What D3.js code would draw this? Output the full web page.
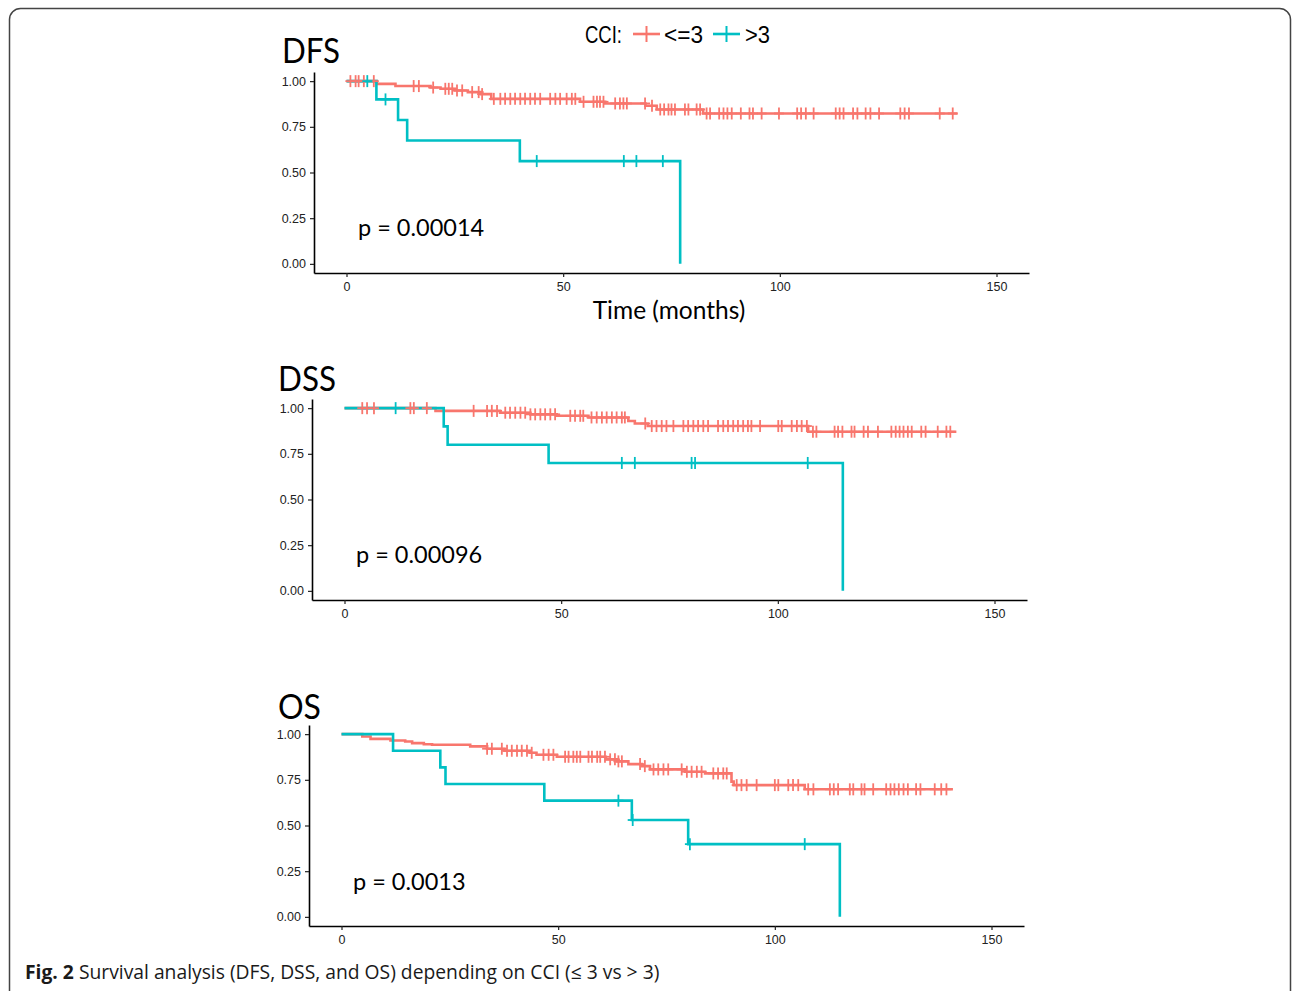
<!DOCTYPE html>
<html>
<head>
<meta charset="utf-8">
<script src="https://cdn.jsdelivr.net/npm/d3@7"></script>
<style>
  body { margin: 0; background: #fff; }
  svg { display: block; }
</style>
</head>
<body>
<div id="chart"></div>
<script>
// ---- data ----
const groups = ['<=3', '>3'];
const groupColors = ['#F8766D', '#00BFC4'];
const xTicks = [0, 50, 100, 150];
const yTicks = [0, 0.25, 0.5, 0.75, 1];
const panelNames = ['DFS', 'DSS', 'OS'];
const pValues = ['p = 0.00014', 'p = 0.00096', 'p = 0.0013'];

// [time, survival] at each step, plus the end of follow-up
const dfsLowSteps = [[0, 1], [7, 0.985], [11.3, 0.973], [19.4, 0.965], [21.7, 0.958], [25, 0.949], [28, 0.94], [31, 0.929],
  [33.4, 0.903], [53.9, 0.887], [59.7, 0.878], [69, 0.865], [71.6, 0.845], [82.3, 0.823], [141, 0.823]];
const dfsLowCensor = [0.9, 2.1, 2.8, 4, 6.3, 15.5, 16.7, 20, 22.8, 23.6, 24.4, 25.5, 26.7, 29, 30.5, 31.3, 34, 35.5, 36.6,
  37.8, 38.9, 40.1, 41.2, 42.4, 43.5, 44.7, 47, 48.2, 49.3, 50.8, 52, 52.8, 54.7, 57, 57.8, 58.5, 59.3, 62, 63.1, 63.9,
  64.7, 68.9, 70.5, 72.4, 73.3, 74.3, 75, 75.8, 78.1, 78.9, 80.8, 81.6, 83.1, 83.9, 86, 87, 87.9, 88.9, 91, 93, 93.8,
  95.8, 99.8, 104, 104.9, 106, 107.8, 112.9, 113.8, 114.7, 116.9, 117.9, 119.8, 120.9, 122.9, 127.8, 128.8, 129.8,
  136.9, 139.9];
const dfsHighSteps = [[0, 1], [6.9, 0.9], [11.9, 0.7875], [14, 0.675], [40, 0.5625], [77, 0]];
const dfsHighCensor = [4.8, 9, 43.9, 64, 66.9, 73];

const dssLowSteps = [[0, 1], [21, 0.985], [35.9, 0.975], [42.9, 0.966], [49, 0.958], [56.3, 0.949], [65.5, 0.93],
  [67, 0.916], [70, 0.902], [107, 0.871], [141.2, 0.871]];
const dssLowCensor = [4.1, 5.2, 6.8, 15.2, 16, 19, 29.8, 32.9, 34, 35.2, 37.1, 38.2, 39.4, 40.6, 41.7, 42.9, 44, 45.2,
  46.3, 47.5, 48.6, 52.1, 53.2, 54.4, 55.1, 57, 58.2, 59.4, 60.5, 61.7, 62.8, 64, 64.7, 69.4, 70.9, 72, 73.2, 74.3,
  75.9, 78.2, 79.3, 80.5, 81.6, 82.8, 83.9, 86.2, 87.4, 88.5, 89.7, 90.8, 92, 93.1, 93.9, 95.9, 100.1, 100.9, 103.2,
  104.4, 105.5, 106.7, 108.1, 108.9, 113.1, 113.9, 114.9, 117, 117.7, 119.8, 120.8, 123.1, 126.2, 127.2, 128.1, 129,
  130, 130.9, 133.1, 134.1, 136.9, 138.9, 139.8];
const dssHighSteps = [[0, 1], [22.9, 0.9], [23.8, 0.8], [47.1, 0.7], [115, 0]];
const dssHighCensor = [11.8, 64, 67, 80.1, 80.9, 106.9];

const osLowSteps = [[0, 1], [4.8, 0.987], [6.7, 0.974], [11.3, 0.965], [14.7, 0.96], [16.3, 0.951], [19, 0.945],
  [20.9, 0.942], [29.7, 0.933], [33.6, 0.92], [37.6, 0.909], [43.5, 0.898], [45, 0.887], [49.7, 0.876], [61, 0.862],
  [63.5, 0.851], [66.2, 0.836], [69.3, 0.825], [71.2, 0.807], [79.3, 0.794], [83.9, 0.785], [90, 0.74], [90.5, 0.721],
  [106.9, 0.698], [141.1, 0.698]];
const osLowCensor = [33.6, 34.7, 37, 38.2, 39.3, 40.5, 41.6, 42.8, 43.9, 46.6, 47.8, 48.9, 51.6, 52.4, 53.5, 54.3,
  55.1, 57, 57.8, 59, 59.7, 60.8, 62, 63.1, 63.9, 64.7, 68.9, 70, 72, 73.1, 74.3, 75.4, 78.5, 79.7, 80.8, 82, 83.1,
  85.8, 86.9, 88.1, 88.9, 91.2, 92.3, 93.5, 95.8, 100, 100.8, 103.1, 104.2, 105.4, 107.7, 108.9, 112.7, 113.6, 114.6,
  117.3, 118.1, 120, 120.7, 122.7, 125.7, 126.7, 127.6, 128.6, 129.7, 130.7, 132.6, 133.6, 136.9, 138.4, 139.6];
const osHighSteps = [[0, 1], [11.9, 0.909], [22.8, 0.818], [24, 0.727], [46.8, 0.636], [67, 0.53], [80, 0.398], [115, 0]];
const osHighCensor = [63.9, 67.2, 80.4, 106.9];

const panelSteps = [[dfsLowSteps, dfsHighSteps], [dssLowSteps, dssHighSteps], [osLowSteps, osHighSteps]];
const panelCensor = [[dfsLowCensor, dfsHighCensor], [dssLowCensor, dssHighCensor], [osLowCensor, osHighCensor]];

// ---- layout ----
const W = 1292, H = 991;
const panels = [
  { left: 314, top: 72, titleX: 282, titleY: 63, titleW: 58, pY: 236, xlab: true },
  { left: 312, top: 399, titleX: 278, titleY: 391, titleW: 58, pY: 563, xlab: false },
  { left: 309, top: 725, titleX: 278, titleY: 719, titleW: 43, pY: 890, xlab: false }
];
const plotW = 715, plotH = 201;

const svg = d3.select('#chart').append('svg')
  .attr('width', W)
  .attr('height', H);

svg.append('rect')
  .attr('x', 9.5).attr('y', 8.5)
  .attr('width', 1281).attr('height', 1010)
  .attr('rx', 11)
  .attr('fill', 'none')
  .attr('stroke', '#444')
  .attr('stroke-width', 1.5);

const survAt = (steps, t) => {
  let s = steps[0][1];
  for (const d of steps) { if (d[0] <= t) s = d[1]; }
  return s;
};

panels.forEach((p, i) => {
  const g = svg.append('g').attr('transform', `translate(${p.left},${p.top})`);

  const x = d3.scaleLinear().domain([-7.5, 157.5]).range([0, plotW]);
  const y = d3.scaleLinear().domain([-0.05, 1.05]).range([plotH, 0]);

  const xAxis = g.append('g')
    .attr('transform', `translate(0,${plotH})`)
    .call(d3.axisBottom(x).tickValues(xTicks).tickSize(4).tickSizeOuter(0).tickPadding(5).tickFormat(d3.format('d')));
  const yAxis = g.append('g')
    .call(d3.axisLeft(y).tickValues(yTicks).tickSize(4).tickSizeOuter(0).tickPadding(4).tickFormat(d3.format('.2f')));

  [xAxis, yAxis].forEach(a => {
    a.select('.domain').attr('stroke', '#000').attr('stroke-width', 1.6);
    a.selectAll('.tick line').attr('stroke', '#222').attr('stroke-width', 1.2);
    a.selectAll('.tick text')
      .attr('fill', '#222')
      .style('font-family', '"Liberation Sans", Arial, sans-serif')
      .style('font-size', '12.5px');
  });

  const line = d3.line()
    .x(d => x(d[0]))
    .y(d => y(d[1]))
    .curve(d3.curveStepAfter);

  panelSteps[i].forEach((steps, k) => {
    g.append('path')
      .datum(steps)
      .attr('fill', 'none')
      .attr('stroke', groupColors[k])
      .attr('stroke-width', 2.6)
      .attr('d', line);
  });

  panelCensor[i].forEach((cens, k) => {
    const steps = panelSteps[i][k];
    const marks = g.append('g').selectAll('g')
      .data(cens)
      .enter()
      .append('g')
      .attr('transform', d => `translate(${x(d)},${y(survAt(steps, d))})`);
    marks.append('line')
      .attr('x1', 0).attr('x2', 0).attr('y1', -6).attr('y2', 6)
      .attr('stroke', groupColors[k]).attr('stroke-width', 1.8);
    marks.append('line')
      .attr('x1', -5).attr('x2', 5).attr('y1', 0).attr('y2', 0)
      .attr('stroke', groupColors[k]).attr('stroke-width', 1.8);
  });

  svg.append('text')
    .attr('x', p.titleX)
    .attr('y', p.titleY)
    .style('font-family', 'Lato, sans-serif')
    .style('font-size', '35px')
    .attr('textLength', p.titleW)
    .attr('lengthAdjust', 'spacingAndGlyphs')
    .attr('fill', '#000')
    .text(panelNames[i]);

  svg.append('text')
    .attr('x', p.left + 44)
    .attr('y', p.pY)
    .style('font-family', 'Lato, sans-serif')
    .style('font-size', '23.5px')
    .attr('fill', '#000')
    .text(pValues[i]);

  if (p.xlab) {
    svg.append('text')
      .attr('x', 669)
      .attr('y', 319)
      .attr('text-anchor', 'middle')
      .style('font-family', 'Lato, sans-serif')
      .style('font-size', '24.5px')
      .attr('fill', '#000')
      .text('Time (months)');
  }
});

// legend
const legend = svg.append('g');
legend.append('text')
  .attr('x', 585).attr('y', 43)
  .style('font-family', '"Liberation Sans", Arial, sans-serif')
  .style('font-size', '23px')
  .attr('textLength', 37)
  .attr('lengthAdjust', 'spacingAndGlyphs')
  .attr('fill', '#000')
  .text('CCI:');
const keyX = [633, 713];
const labelX = [664, 745];
const labelW = [39, 25];
groups.forEach((name, k) => {
  legend.append('line')
    .attr('x1', keyX[k]).attr('x2', keyX[k] + 27).attr('y1', 34).attr('y2', 34)
    .attr('stroke', groupColors[k]).attr('stroke-width', 2.6);
  legend.append('line')
    .attr('x1', keyX[k] + 13.5).attr('x2', keyX[k] + 13.5).attr('y1', 26).attr('y2', 42)
    .attr('stroke', groupColors[k]).attr('stroke-width', 2);
  legend.append('text')
    .attr('x', labelX[k]).attr('y', 43)
    .style('font-family', '"Liberation Sans", Arial, sans-serif')
    .style('font-size', '23px')
    .attr('textLength', labelW[k])
    .attr('lengthAdjust', 'spacingAndGlyphs')
    .attr('fill', '#000')
    .text(name);
});

// caption
const cap = svg.append('text')
  .attr('x', 25).attr('y', 979)
  .style('font-family', '"Open Sans", sans-serif')
  .style('font-size', '19.3px')
  .attr('fill', '#1a1a1a');
cap.append('tspan').style('font-weight', 'bold').text('Fig. 2');
cap.append('tspan').text(' Survival analysis (DFS, DSS, and OS) depending on CCI (\u2264 3 vs > 3)');
</script>
</body>
</html>
